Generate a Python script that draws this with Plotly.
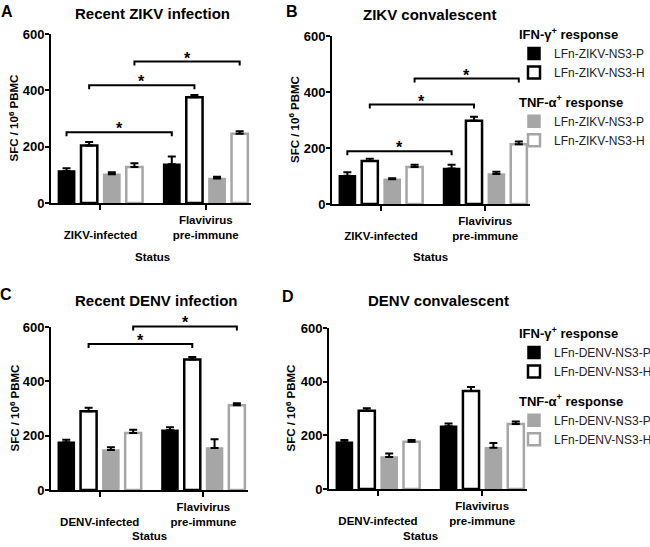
import plotly.graph_objects as go

W, H = 650, 547

# ---- data -------------------------------------------------------------
zikv_groups = ["ZIKV-infected", "Flavivirus pre-immune"]
denv_groups = ["DENV-infected", "Flavivirus pre-immune"]
zikv_ticks = ["<br>ZIKV-infected", "Flavivirus<br>pre-immune"]
denv_ticks = ["<br>DENV-infected", "Flavivirus<br>pre-immune"]
zikv_series = ["LFn-ZIKV-NS3-P", "LFn-ZIKV-NS3-H", "LFn-ZIKV-NS3-P", "LFn-ZIKV-NS3-H"]
denv_series = ["LFn-DENV-NS3-P", "LFn-DENV-NS3-H", "LFn-DENV-NS3-P", "LFn-DENV-NS3-H"]

# A: recent ZIKV infection
a_ifn_p, a_ifn_p_err = [114, 138], [9, 27]
a_ifn_h, a_ifn_h_err = [204, 375], [13, 8]
a_tnf_p, a_tnf_p_err = [102, 87], [7, 6]
a_tnf_h, a_tnf_h_err = [128, 246], [13, 9]
# B: ZIKV convalescent
b_ifn_p, b_ifn_p_err = [101, 127], [12, 13]
b_ifn_h, b_ifn_h_err = [154, 297], [8, 15]
b_tnf_p, b_tnf_p_err = [88, 107], [4, 8]
b_tnf_h, b_tnf_h_err = [132, 213], [8, 10]
# C: recent DENV infection
c_ifn_p, c_ifn_p_err = [176, 220], [9, 11]
c_ifn_h, c_ifn_h_err = [290, 480], [13, 10]
c_tnf_p, c_tnf_p_err = [147, 155], [10, 32]
c_tnf_h, c_tnf_h_err = [210, 312], [12, 7]
# D: DENV convalescent
d_ifn_p, d_ifn_p_err = [174, 234], [9, 10]
d_ifn_h, d_ifn_h_err = [292, 365], [9, 15]
d_tnf_p, d_tnf_p_err = [119, 154], [13, 17]
d_tnf_h, d_tnf_h_err = [176, 242], [7, 10]

# significance brackets: (series index, bracket height)
a_sig = [(0, 251), (1, 418), (3, 502)]
b_sig = [(0, 188), (1, 355), (3, 448)]
c_sig = [(1, 537), (3, 602)]
d_sig = []

# ---- styling ----------------------------------------------------------
FONT = "Liberation Sans, Arial, sans-serif"
GREY = "#a6a6a6"
styles = [
    dict(color="black", line=dict(color="black", width=1.5)),
    dict(color="white", line=dict(color="black", width=2.5)),
    dict(color=GREY, line=dict(color=GREY, width=1.5)),
    dict(color="white", line=dict(color=GREY, width=2.5)),
]
groups = ["IFN-γ<sup>+</sup> response"] * 2 + ["TNF-α<sup>+</sup> response"] * 2
YMAX = 600
BARGAP = 0.14
XR = [-0.47, 1.43]


def bold(size):
    return dict(family=FONT, size=size, weight="bold", color="black")


def px(x0, x1, y0, y1):
    return dict(x=[x0 / W, x1 / W], y=[1 - y1 / H, 1 - y0 / H])


def label(fig, x, y, text, font, **kw):
    # paper-positioned text given in pixels from the top-left corner
    fig.add_annotation(x=x / W, y=1 - y / H, xref="paper", yref="paper", text=text,
                       showarrow=False, xanchor="center", yanchor="middle", font=font, **kw)


panels = [
    dict(key="", title="Recent ZIKV infection", letter="A", cats=zikv_groups, ticks=zikv_ticks,
         names=zikv_series, vals=[a_ifn_p, a_ifn_h, a_tnf_p, a_tnf_h],
         errs=[a_ifn_p_err, a_ifn_h_err, a_tnf_p_err, a_tnf_h_err], sig=a_sig,
         box=px(51, 251, 34, 203), legend="legend", title_xy=(152, 13), letter_xy=(7, 12),
         ytitle_x=13, status_xy=(152, 257)),
    dict(key="2", title="ZIKV convalescent", letter="B", cats=zikv_groups, ticks=zikv_ticks,
         names=zikv_series, vals=[b_ifn_p, b_ifn_h, b_tnf_p, b_tnf_h],
         errs=[b_ifn_p_err, b_ifn_h_err, b_tnf_p_err, b_tnf_h_err], sig=b_sig,
         box=px(332, 530, 36, 204), legend=None, title_xy=(429, 15), letter_xy=(292, 11),
         ytitle_x=294, status_xy=(430, 257)),
    dict(key="3", title="Recent DENV infection", letter="C", cats=denv_groups, ticks=denv_ticks,
         names=denv_series, vals=[c_ifn_p, c_ifn_h, c_tnf_p, c_tnf_h],
         errs=[c_ifn_p_err, c_ifn_h_err, c_tnf_p_err, c_tnf_h_err], sig=c_sig,
         box=px(51, 248, 327, 490), legend="legend2", title_xy=(156, 300), letter_xy=(6, 294),
         ytitle_x=14, status_xy=(149, 536)),
    dict(key="4", title="DENV convalescent", letter="D", cats=denv_groups, ticks=denv_ticks,
         names=denv_series, vals=[d_ifn_p, d_ifn_h, d_tnf_p, d_tnf_h],
         errs=[d_ifn_p_err, d_ifn_h_err, d_tnf_p_err, d_tnf_h_err], sig=d_sig,
         box=px(329, 527, 328, 489), legend=None, title_xy=(438, 300), letter_xy=(288, 296),
         ytitle_x=290, status_xy=(420, 536)),
]

fig = go.Figure()
slot = (1 - BARGAP) / 4
offsets = [-(1 - BARGAP) / 2 + (i + 0.5) * slot for i in range(4)]

for p in panels:
    xa, ya = "x" + p["key"], "y" + p["key"]
    for i in range(4):
        tr = go.Bar(
            x=p["cats"], y=p["vals"][i], name=p["names"][i],
            xaxis=xa, yaxis=ya, marker=styles[i],
            error_y=dict(type="data", array=p["errs"][i], arrayminus=[0, 0], symmetric=False,
                         color="black", thickness=2, width=4),
            showlegend=p["legend"] is not None,
            legendgroup=groups[i] + p["key"],
        )
        if p["legend"]:
            tr.update(legend=p["legend"], legendgrouptitle=dict(text=groups[i]))
        fig.add_trace(tr)

    axis_common = dict(showline=True, linecolor="black", linewidth=2, showgrid=False,
                       zeroline=False, ticks="outside", tickwidth=2, tickcolor="black")
    fig.update_layout({
        "xaxis" + p["key"]: dict(domain=p["box"]["x"], anchor=ya, range=XR, type="category",
                                 tickvals=p["cats"], ticktext=p["ticks"], ticklen=5,
                                 tickfont=bold(11.5), **axis_common),
        "yaxis" + p["key"]: dict(domain=p["box"]["y"], anchor=xa, range=[0, YMAX],
                                 tickvals=[0, 200, 400, 600], ticklen=4, ticklabelstandoff=-2,
                                 tickfont=bold(13), **axis_common),
    })

    dom_h = (p["box"]["y"][1] - p["box"]["y"][0]) * H
    for i, level in p["sig"]:
        x1, x2 = offsets[i], 1 + offsets[i]
        d = level / YMAX
        d0 = d - 4 / dom_h
        fig.add_shape(type="path", xref=xa, yref=ya + " domain",
                      path=f"M {x1},{d0} L {x1},{d} L {x2},{d} L {x2},{d0}",
                      line=dict(color="black", width=2))
        fig.add_annotation(x=(x1 + x2) / 2, y=d, xref=xa, yref=ya + " domain", text="*",
                           showarrow=False, yanchor="bottom", yshift=-7, font=bold(16))

    label(fig, *p["title_xy"], p["title"], bold(15))
    label(fig, *p["letter_xy"], p["letter"], bold(16))
    label(fig, *p["status_xy"], "Status", bold(11.5))
    ymid = H * (1 - (p["box"]["y"][0] + p["box"]["y"][1]) / 2)
    label(fig, p["ytitle_x"], ymid, "SFC / 10<sup>6</sup> PBMC", bold(11.5), textangle=-90)

legend_style = dict(xanchor="left", yanchor="top", bgcolor="rgba(0,0,0,0)", tracegroupgap=10,
                    font=dict(family=FONT, size=12, color="#222"),
                    grouptitlefont=bold(13))

fig.update_layout(
    width=W, height=H, margin=dict(l=0, r=0, t=0, b=0, autoexpand=False),
    plot_bgcolor="white", paper_bgcolor="white",
    barmode="group", bargap=BARGAP, bargroupgap=0.28,
    legend=dict(x=514 / W, y=1 - 19 / H, **legend_style),
    legend2=dict(x=514 / W, y=1 - 318 / H, **legend_style),
)

# drop the browser's default 8px page margin so the figure sits at the window corner
fig.write_html("out.html", config={"displayModeBar": False},
               post_script="document.body.style.margin = '0';")
